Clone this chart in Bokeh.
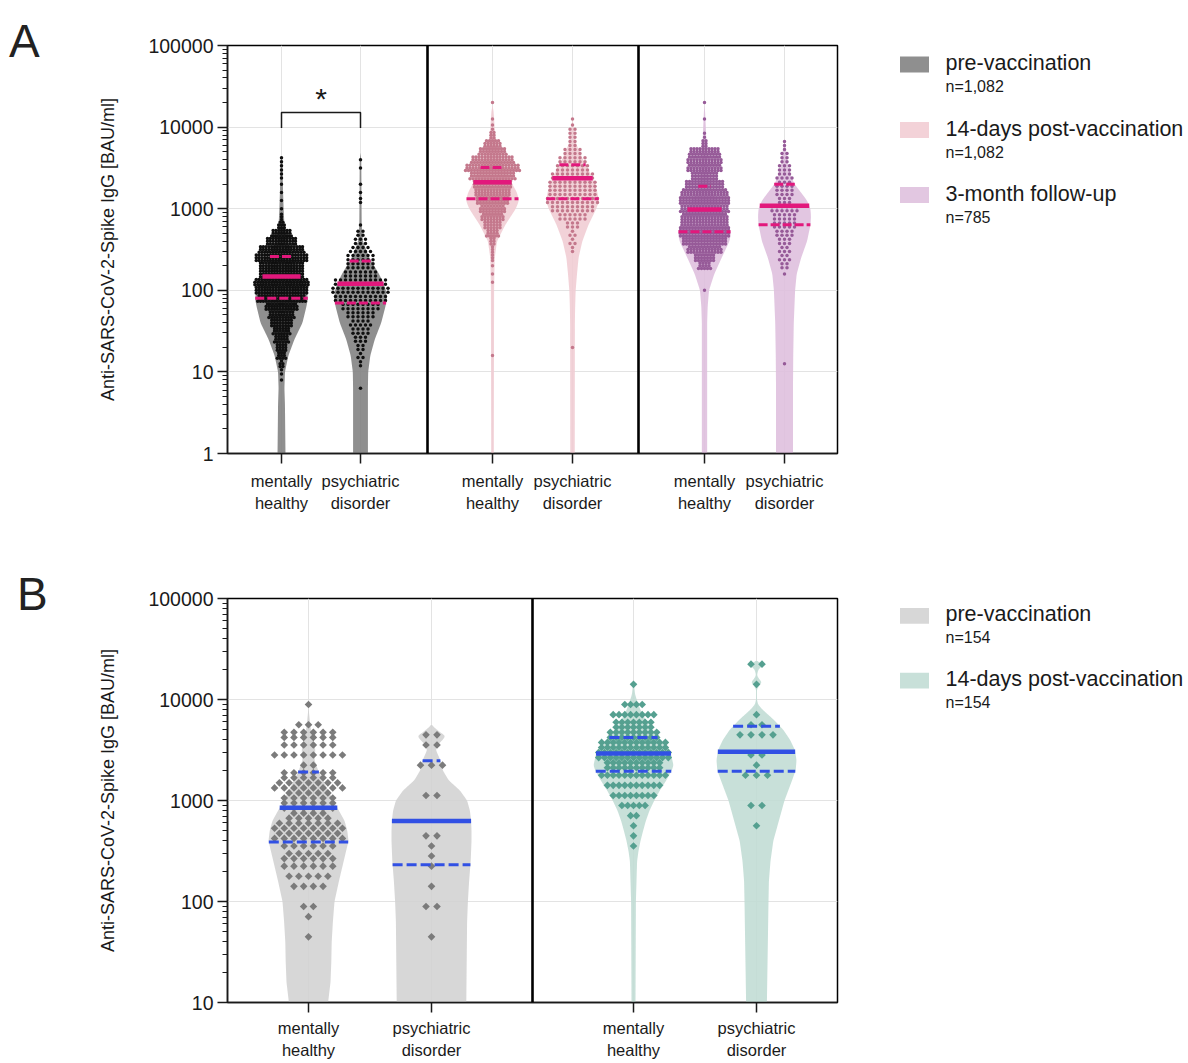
import math
import numpy as np
from bokeh.plotting import figure
from bokeh.models import Range1d, FixedTicker, NumeralTickFormatter, Span, Div
from bokeh.layouts import row, column
from bokeh.embed import file_html
from bokeh.resources import INLINE
from bokeh.core.properties import value

FONT = "Liberation Sans"
TXT = "#1a1a1a"

# ---------------------------------------------------------------- DATA
CATEGORY_LABELS = ["mentally\nhealthy", "psychiatric\ndisorder"]
Y_LABEL = "Anti-SARS-CoV-2-Spike IgG [BAU/ml]"

A_LEGEND = ["pre-vaccination", "14-days post-vaccination", "3-month follow-up"]
A_LEGEND_N = ["n=1,082", "n=1,082", "n=785"]
B_LEGEND = ["pre-vaccination", "14-days post-vaccination"]
B_LEGEND_N = ["n=154", "n=154"]
SIGNIFICANCE = "*"

# dot counts per 0.1-decade bin of log10(BAU/ml); *_START = log10 centre of first bin
BIN = 0.1
A_PRE_MH_START = 0.9
A_PRE_MH_COUNTS = [1, 2, 5, 10, 12, 16, 19, 24, 28, 35, 52, 57, 59, 48, 48, 57, 49, 33, 22, 8,
                   3, 1, 1, 1, 1, 2, 2, 2]
A_PRE_PSY_START = 0.8
A_PRE_PSY_COUNTS = [1, 0, 0, 2, 3, 4, 6, 8, 9, 12, 16, 22, 24, 22, 14, 12, 12, 9, 6, 4,
                    1, 0, 0, 2, 1, 1, 0, 1, 1]
A_POST_MH_START = 1.2
A_POST_MH_COUNTS = [1, 0, 0, 0, 0, 0, 0, 0, 0, 1, 1, 1, 3, 3, 6, 13, 18, 23, 26, 33,
                    36, 39, 46, 55, 43, 28, 17, 6, 2, 1, 0, 1]
A_POST_PSY_START = 1.3
A_POST_PSY_COUNTS = [1, 0, 0, 0, 0, 0, 0, 0, 0, 0, 0, 0, 2, 3, 3, 6, 12, 18, 22, 20,
                     20, 18, 14, 12, 8, 4, 4, 3, 1]
A_3M_MH_START = 2.0
A_3M_MH_COUNTS = [1, 0, 0, 13, 21, 35, 45, 51, 49, 47, 49, 51, 47, 39, 27, 35, 35, 31, 6, 2,
                  0, 1, 0, 1]
A_3M_PSY_START = 1.1
A_3M_PSY_COUNTS = [1, 0, 0, 0, 0, 0, 0, 0, 0, 0, 0, 1, 4, 5, 5, 6, 8, 10, 10, 12,
                   6, 8, 7, 7, 6, 4, 3, 2]
B_PRE_MH_START = 1.65
B_PRE_MH_COUNTS = [1, 0, 1, 2, 0, 4, 5, 6, 11, 6, 15, 15, 9, 12, 11, 15, 12, 2, 8, 6, 12, 3, 0, 1]
B_PRE_PSY_START = 1.65
B_PRE_PSY_COUNTS = [1, 0, 0, 2, 0, 1, 0, 1, 1, 1, 2, 0, 0, 0, 2, 0, 0, 3, 0, 2, 2]
B_POST_MH_START = 2.55
B_POST_MH_COUNTS = [1, 1, 1, 2, 5, 8, 10, 12, 20, 26, 24, 18, 14, 8, 4, 0, 1]
B_POST_PSY_START = 2.75
B_POST_PSY_COUNTS = [1, 0, 2, 0, 0, 3, 1, 2, 0, 4, 2, 1, 0, 0, 1, 0, 2]

# Q1, median, Q3 in BAU/ml
A_PRE_MH_STATS = [80, 148, 259]
A_PRE_PSY_STATS = [70, 120, 228]
A_POST_MH_STATS = [1320, 2110, 3200]
A_POST_PSY_STATS = [1320, 2365, 3460]
A_3M_MH_STATS = [521, 980, 1890]
A_3M_PSY_STATS = [634, 1085, 1995]
B_PRE_MH_STATS = [388, 848, 1920]
B_PRE_PSY_STATS = [231, 625, 2477]
B_POST_MH_STATS = [1945, 2925, 4210]
B_POST_PSY_STATS = [1945, 3040, 5440]

# violin density outline: (log10 BAU/ml, relative density in % of the violin's maximum)
A_PRE_MH_VIOLIN = [(0.0, 15), (0.6, 13), (0.8, 11), (1.0, 13), (1.2, 26), (1.4, 49), (1.6, 79), (1.8, 94),
                   (1.9, 100), (2.0, 94), (2.2, 68), (2.4, 45), (2.6, 23), (2.8, 11), (3.0, 8), (3.2, 6),
                   (3.4, 4.5), (3.6, 4), (3.63, 0)]
A_PRE_PSY_VIOLIN = [(0.0, 28), (0.8, 28), (1.0, 29), (1.2, 37), (1.4, 54), (1.6, 78), (1.8, 94), (1.9, 100),
                    (2.0, 96), (2.1, 85), (2.2, 70), (2.4, 33), (2.6, 9), (2.8, 4.5), (3.2, 3.7), (3.6, 3),
                    (3.68, 0)]
A_POST_MH_VIOLIN = [(0.0, 5), (2.0, 6), (2.2, 7), (2.4, 8.5), (2.6, 17), (2.8, 48), (3.0, 88), (3.1, 100),
                    (3.2, 92), (3.3, 75), (3.4, 62), (3.5, 46), (3.6, 31), (3.8, 13), (4.0, 8), (4.2, 4),
                    (4.26, 0)]
A_POST_PSY_VIOLIN = [(0.0, 8.5), (1.6, 9), (1.8, 10), (2.0, 12), (2.2, 17), (2.4, 23), (2.6, 37), (2.8, 60),
                     (3.0, 90), (3.1, 100), (3.2, 94), (3.3, 85), (3.4, 73), (3.5, 56), (3.6, 40), (3.8, 13),
                     (4.0, 4), (4.1, 0)]
A_3M_MH_VIOLIN = [(0.0, 10), (1.6, 10), (1.8, 12), (2.0, 17), (2.2, 37), (2.4, 65), (2.6, 94), (2.7, 100),
                  (2.8, 92), (2.9, 79), (3.0, 63), (3.1, 46), (3.2, 31), (3.3, 21), (3.4, 15), (3.6, 10),
                  (3.8, 7), (4.0, 5), (4.2, 2), (4.26, 0)]
A_3M_PSY_VIOLIN = [(0.0, 32), (0.8, 32), (1.2, 33), (1.6, 35), (2.0, 40), (2.2, 46), (2.4, 63), (2.6, 85),
                   (2.8, 98), (2.9, 100), (3.0, 98), (3.1, 85), (3.2, 62), (3.3, 38), (3.4, 25), (3.5, 15),
                   (3.6, 10), (3.8, 3), (3.82, 0)]
B_PRE_MH_VIOLIN = [(1.0, 49), (1.2, 55), (1.4, 57), (1.6, 58), (1.8, 61), (2.0, 65), (2.2, 76), (2.4, 88),
                   (2.6, 100), (2.7, 97), (2.8, 90), (2.9, 76), (3.0, 62), (3.1, 49), (3.2, 36), (3.3, 24),
                   (3.4, 15), (3.5, 17), (3.6, 13), (3.7, 6), (3.8, 3), (3.92, 0)]
B_PRE_PSY_VIOLIN = [(1.0, 87), (1.4, 88), (1.8, 89), (2.0, 91), (2.2, 94), (2.4, 98), (2.6, 100), (2.7, 100),
                    (2.8, 99), (2.9, 96), (3.0, 89), (3.1, 71), (3.2, 43), (3.3, 28), (3.4, 22), (3.5, 11),
                    (3.55, 15), (3.6, 28), (3.64, 35), (3.68, 20), (3.72, 8), (3.75, 0)]
B_POST_MH_VIOLIN = [(1.0, 5), (2.0, 6), (2.2, 7.5), (2.4, 9), (2.5, 12.5), (2.6, 17.5), (2.7, 24), (2.8, 31),
                    (2.9, 40), (3.0, 52), (3.1, 66), (3.2, 82), (3.3, 96), (3.35, 100), (3.4, 97), (3.5, 92),
                    (3.6, 65), (3.7, 45), (3.8, 30), (3.9, 17), (4.0, 8), (4.05, 4), (4.19, 0)]
B_POST_PSY_VIOLIN = [(1.0, 26), (1.5, 28), (2.0, 30), (2.2, 31), (2.4, 35), (2.6, 42), (2.8, 56), (3.0, 70),
                     (3.2, 89), (3.3, 98), (3.4, 100), (3.5, 96), (3.6, 84), (3.7, 67), (3.8, 43), (3.9, 15),
                     (3.95, 4), (4.0, 1), (4.1, 1), (4.14, 7), (4.17, 14), (4.2, 7), (4.24, 1), (4.3, 5),
                     (4.34, 17), (4.36, 12), (4.38, 0)]

# ---------------------------------------------------------------- STYLE / LAYOUT
LETTER_W = 60
FIG_W = 779          # page x 60 .. 839, frame 227 .. 837
LEG_W = 347
FRAME_W = 610
A_POS = [54, 133, 265, 345, 477, 557]
A_SEPS = [200, 411]
B_POS = [81, 204, 406, 529]
B_SEPS = [305]

A_GROUPS = [
    dict(counts=A_PRE_MH_COUNTS, start=A_PRE_MH_START, stats=A_PRE_MH_STATS, violin=A_PRE_MH_VIOLIN,
         fill="#8f8f8f", dot="#101010", dx=2.8, per_row=20, min_rows=3),
    dict(counts=A_PRE_PSY_COUNTS, start=A_PRE_PSY_START, stats=A_PRE_PSY_STATS, violin=A_PRE_PSY_VIOLIN,
         fill="#8f8f8f", dot="#101010", dx=5.0, per_row=12, min_rows=2),
    dict(counts=A_POST_MH_COUNTS, start=A_POST_MH_START, stats=A_POST_MH_STATS, violin=A_POST_MH_VIOLIN,
         fill="#f2d2d8", dot="#c4788c", dx=3.0, per_row=19, min_rows=3),
    dict(counts=A_POST_PSY_COUNTS, start=A_POST_PSY_START, stats=A_POST_PSY_STATS, violin=A_POST_PSY_VIOLIN,
         fill="#f2d2d8", dot="#c4788c", dx=5.0, per_row=12, min_rows=2),
    dict(counts=A_3M_MH_COUNTS, start=A_3M_MH_START, stats=A_3M_MH_STATS, violin=A_3M_MH_VIOLIN,
         fill="#e2c6e1", dot="#965a98", dx=3.0, per_row=19, min_rows=3),
    dict(counts=A_3M_PSY_COUNTS, start=A_3M_PSY_START, stats=A_3M_PSY_STATS, violin=A_3M_PSY_VIOLIN,
         fill="#e2c6e1", dot="#965a98", dx=5.0, per_row=12, min_rows=2),
]
B_GROUPS = [
    dict(counts=B_PRE_MH_COUNTS, start=B_PRE_MH_START, stats=B_PRE_MH_STATS, violin=B_PRE_MH_VIOLIN,
         fill="#d7d7d7", dot="#7b7b7b", dx=9.7, per_row=8, min_rows=1),
    dict(counts=B_PRE_PSY_COUNTS, start=B_PRE_PSY_START, stats=B_PRE_PSY_STATS, violin=B_PRE_PSY_VIOLIN,
         fill="#d7d7d7", dot="#7b7b7b", dx=11.0, per_row=4, min_rows=1),
    dict(counts=B_POST_MH_COUNTS, start=B_POST_MH_START, stats=B_POST_MH_STATS, violin=B_POST_MH_VIOLIN,
         fill="#c8e0d9", dot="#55a090", dx=5.8, per_row=13, min_rows=1),
    dict(counts=B_POST_PSY_COUNTS, start=B_POST_PSY_START, stats=B_POST_PSY_STATS, violin=B_POST_PSY_VIOLIN,
         fill="#c8e0d9", dot="#55a090", dx=11.0, per_row=4, min_rows=1),
]


def violin_shape(pairs, sigma):
    L = np.array([a for a, _ in pairs], float)
    D = np.array([b for _, b in pairs], float) / 100.0
    step = 0.004
    grid = np.arange(L[0], L[-1] + step / 2, step)
    d = np.interp(grid, L, D)
    k = max(1, int(round(sigma / step)))
    t = np.arange(-3 * k, 3 * k + 1)
    kern = np.exp(-0.5 * (t / k) ** 2)
    kern /= kern.sum()
    padded = np.concatenate([np.full(3 * k, d[0]), d, np.zeros(3 * k)])
    sm = np.convolve(padded, kern, mode="same")[3 * k:-3 * k]
    return grid, sm


def swarm(counts, start, center, dx, per_row, min_rows):
    xs, ys = [], []
    for i, c in enumerate(counts):
        if c <= 0:
            continue
        mid = start + i * BIN
        nrows = max(-(-c // per_row), min(c, min_rows))
        base, extra = divmod(c, nrows)
        for r in range(nrows):
            kk = base + (1 if r < extra else 0)
            ly = mid - BIN / 2 + BIN * (r + 0.5) / nrows
            for j in range(kk):
                xs.append(center + (j - (kk - 1) / 2) * dx)
                ys.append(10 ** ly)
    return xs, ys


def tint(hexcol, alpha):
    h = hexcol.lstrip("#")
    rgb = [int(h[i:i + 2], 16) for i in (0, 2, 4)]
    out = [max(0, min(255, int(round(255 - (255 - c) / alpha)))) for c in rgb]
    return "#%02x%02x%02x" % tuple(out)


def build_panel(height, b_top, b_bottom, y_lo, groups, positions, seps, half_max, stat_color,
                dash, med_w, q_w, marker, dot_size, dot_angle, sigma, x_standoff):
    p = figure(width=FIG_W, height=height, x_range=Range1d(0, FRAME_W), y_range=Range1d(y_lo, 1e5),
               y_axis_type="log", output_backend="svg", toolbar_location=None,
               min_border_left=FIG_W - FRAME_W - 2, min_border_right=2,
               min_border_top=b_top, min_border_bottom=b_bottom)
    p.background_fill_color = "white"
    p.border_fill_color = "white"
    p.outline_line_color = "black"
    p.outline_line_width = 1.5

    lo_dec = int(round(math.log10(y_lo)))
    majors = [10 ** k for k in range(lo_dec, 6)]
    minors = [m * 10 ** k for k in range(lo_dec, 5) for m in range(2, 10)]
    p.yaxis.ticker = FixedTicker(ticks=majors, minor_ticks=minors)
    p.yaxis.formatter = NumeralTickFormatter(format="0")
    p.xaxis.ticker = FixedTicker(ticks=positions, minor_ticks=[])
    p.xaxis.major_label_overrides = {pos: CATEGORY_LABELS[i % 2] for i, pos in enumerate(positions)}

    for ax in (p.xaxis[0], p.yaxis[0]):
        ax.axis_line_color = "#1a1a1a"
        ax.axis_line_width = 1.5
        ax.major_tick_line_color = "#1a1a1a"
        ax.major_tick_line_width = 1.5
        ax.major_tick_out = 10
        ax.major_tick_in = 0
        ax.minor_tick_line_color = "#1a1a1a"
        ax.minor_tick_line_width = 1.2
        ax.minor_tick_out = 5
        ax.minor_tick_in = 0
        ax.major_label_text_font = FONT
        ax.major_label_text_color = TXT
    p.yaxis.major_label_text_font_size = "19.5px"
    p.yaxis.major_label_standoff = 4
    p.xaxis.major_label_text_font_size = "16.5px"
    p.xaxis.major_label_text_line_height = 1.25
    p.xaxis.major_label_standoff = x_standoff
    p.yaxis.axis_label = Y_LABEL
    p.yaxis.axis_label_text_font = FONT
    p.yaxis.axis_label_text_font_size = "18px"
    p.yaxis.axis_label_text_font_style = "normal"
    p.yaxis.axis_label_text_color = TXT
    p.yaxis.axis_label_standoff = 27

    p.grid.grid_line_color = "#e3e3e3"
    p.grid.grid_line_width = 1

    shapes = [violin_shape(g["violin"], sigma) for g in groups]
    for g, c, (grid, sm) in zip(groups, positions, shapes):
        xs = np.concatenate([c + half_max * sm, (c - half_max * sm)[::-1]])
        ys = 10 ** np.concatenate([grid, grid[::-1]])
        p.patch(xs, ys, fill_color=tint(g["fill"], 0.88), fill_alpha=0.88, line_color=None)

    for g, c in zip(groups, positions):
        px, py = swarm(g["counts"], g["start"], c, g["dx"], g["per_row"], g["min_rows"])
        p.scatter(px, py, marker=marker, size=dot_size, angle=dot_angle,
                  fill_color=g["dot"], line_color=None)

    for g, c, (grid, sm) in zip(groups, positions, shapes):
        for j, v in enumerate(g["stats"]):
            hw = float(np.interp(math.log10(v), grid, sm)) * half_max
            if j == 1:
                p.segment(c - hw, v, c + hw, v, line_color=stat_color, line_width=med_w)
            else:
                p.segment(c - hw, v, c + hw, v, line_color=stat_color, line_width=q_w, line_dash=dash)

    for s in seps:
        p.add_layout(Span(location=s, dimension="height", line_color="black", line_width=2.6))
    return p


def build_legend(height, b_top, b_bottom, frame_top_page, frame_bottom_page, labels, ns, colors, centers):
    lf = figure(width=LEG_W, height=height, x_range=Range1d(839, 839 + LEG_W),
                y_range=Range1d(frame_bottom_page, frame_top_page), output_backend="svg",
                toolbar_location=None, x_axis_location=None, y_axis_location=None,
                min_border_left=0, min_border_right=0, min_border_top=b_top, min_border_bottom=b_bottom)
    lf.outline_line_color = None
    lf.grid.visible = False
    lf.rect(x=914, y=centers, width=29, height=16, fill_color=colors, line_color=None)
    lf.text(x=945, y=[c - 1.5 for c in centers], text=labels, text_font=value(FONT),
            text_font_size="21.5px", text_color=TXT, text_baseline="alphabetic")
    lf.text(x=945, y=[c + 22 for c in centers], text=ns, text_font=value(FONT),
            text_font_size="16px", text_color=TXT, text_baseline="alphabetic")
    return lf


def letter_div(letter, pad_top, pad_left, height):
    return Div(text=letter, width=LETTER_W, height=height,
               styles={"font-family": "'Liberation Sans', Arial, sans-serif", "font-size": "46px",
                       "line-height": "46px", "padding-top": "%dpx" % pad_top,
                       "padding-left": "%dpx" % pad_left, "color": "#222222", "margin": "0"})


# ---------------- panel A  (page y 0..540, frame 45..453)
pA = build_panel(540, 45, 87, 1, A_GROUPS, A_POS, A_SEPS, 26.5, "#e2187c", "9 3", 4.5, 3,
                 "circle", 3.5, 0.0, 0.02, 8)
br_lo, br_hi = 10 ** 3.99, 10 ** 4.18
pA.line([A_POS[0], A_POS[0], A_POS[1], A_POS[1]], [br_lo, br_hi, br_hi, br_lo],
        line_color="#1a1a1a", line_width=1.5)
pA.text(x=[(A_POS[0] + A_POS[1]) / 2], y=[10 ** 4.35], text=[SIGNIFICANCE], text_font=value(FONT),
        text_font_size="30px", text_align="center", text_baseline="alphabetic", text_color=TXT)
legA = build_legend(540, 45, 87, 45, 453, A_LEGEND, A_LEGEND_N,
                    ["#8f8f8f", "#f3d2d8", "#e2c7e1"], [64, 129.5, 194.5])
divA = letter_div("A", 18, 9, 120)

# ---------------- panel B  (page y 540..1062, frame 598..1004)
pB = build_panel(522, 58, 58, 10, B_GROUPS, B_POS, B_SEPS, 40, "#3150e4", "10 4", 4.5, 3,
                 "square", 5.4, math.pi / 4, 0.012, 6)
legB = build_legend(522, 58, 58, 598, 1004, B_LEGEND, B_LEGEND_N,
                    ["#d7d7d7", "#c8e0d9"], [615.5, 680.5])
divB = letter_div("B", 31, 17, 120)

layout = column(row(divA, pA, legA), row(divB, pB, legB))
open("out.html", "w").write(file_html(layout, INLINE))
